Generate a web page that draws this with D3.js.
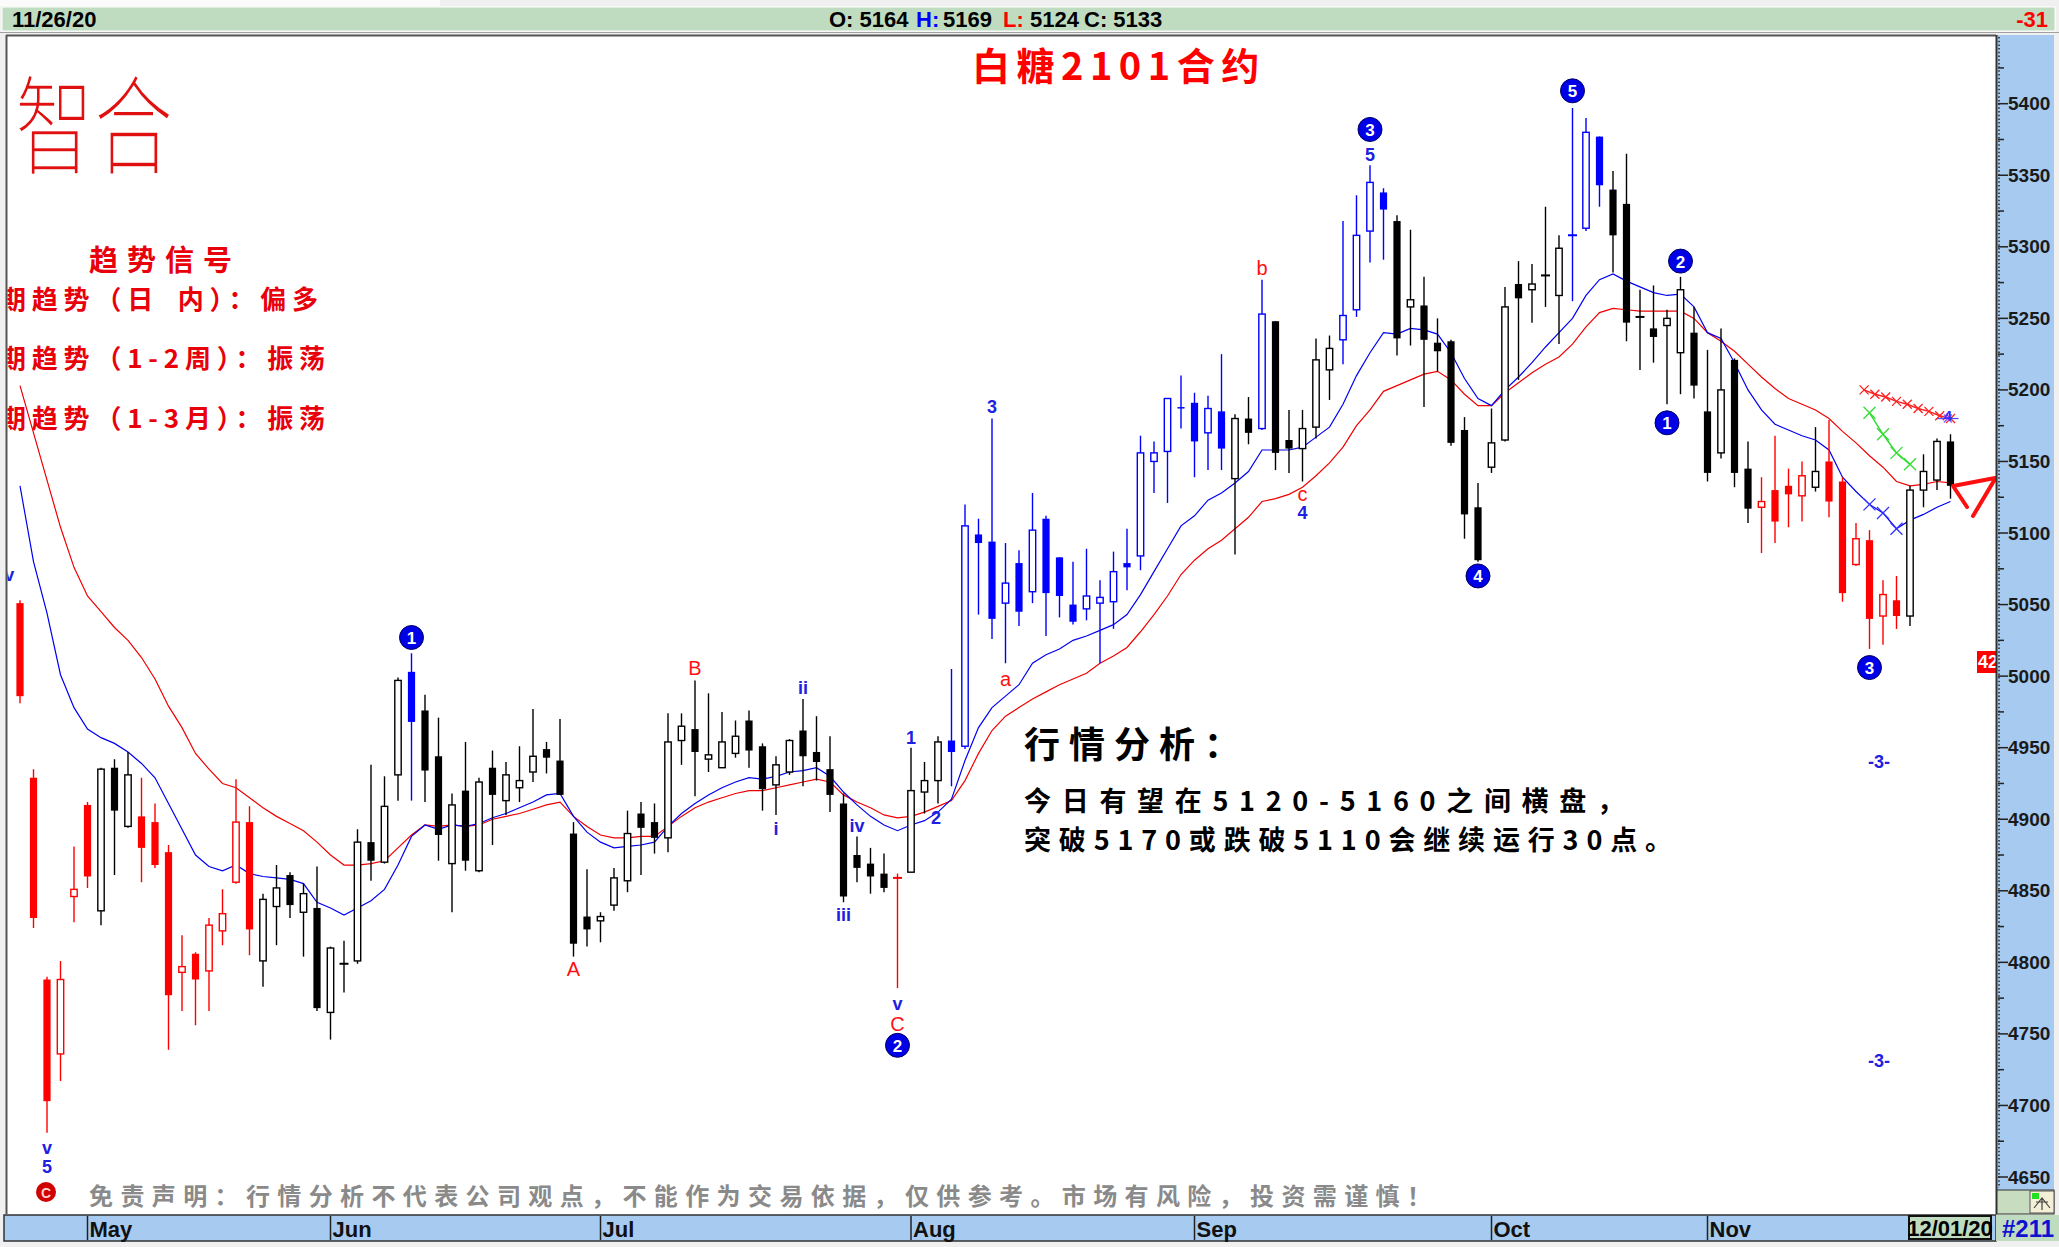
<!DOCTYPE html>
<html>
<head>
<meta charset="utf-8">
<script src="https://cdn.jsdelivr.net/npm/d3@7"></script>
<style>
  body { margin: 0; background: #f0f0f0; overflow: hidden; }
  svg { display: block; }
  .narrow { font-family: "Liberation Sans Narrow", "Arial Narrow", "Liberation Sans", sans-serif; font-weight: bold; }
  .cjk { font-family: "Noto Sans CJK SC", "Noto Sans", sans-serif; }
  .lat { font-family: "Liberation Sans", Arial, sans-serif; }
</style>
</head>
<body>
<svg id="chart" width="2059" height="1247"></svg>
<script>
// ---- Daily candles, white sugar SR2101 (24 Apr – 26 Nov 2020) ----
const open  = [5051,4929,4788,4736,4846,4910,4836,4936,4895,4902,4898,4877,4793,4806,4794,4822,4856,4898,4801,4839,
               4861,4835,4838,4765,4799,4801,4884,4870,4931,5003,4976,4944,4869,4920,4864,4936,4913,4922,4933,4949,
               4941,4890,4832,4829,4840,4857,4904,4898,4887,4955,4963,4942,4936,4946,4969,4951,4924,4933,4962,4947,
               4935,4911,4875,4869,4862,4859,4863,4919,4927,4955,4951,5099,5094,5051,5079,5059,5110,5083,5050,5047,
               5051,5052,5079,5084,5150,5157,5188,5191,5170,5185,5138,5180,5173,5248,5165,5159,5174,5214,5235,5256,
               5311,5338,5318,5258,5259,5233,5234,5172,5118,5146,5165,5274,5270,5280,5266,5308,5313,5377,5340,5330,
               5251,5243,5245,5226,5240,5185,5156,5221,5145,5118,5130,5133,5126,5132,5150,5136,5078,5095,5042,5053,
               5042,5130,5137,5164];
const high  = [5053,4935,4790,4801,4881,4912,4936,4942,4947,4929,4911,4882,4819,4807,4831,4851,4928,4909,4848,4868,
               4863,4855,4867,4811,4815,4893,4938,4930,4999,5016,4987,4971,4918,4954,4929,4948,4940,4951,4977,4954,
               4970,4898,4865,4835,4866,4906,4912,4911,4974,4974,4997,4988,4975,4969,4976,4953,4944,4956,4984,4972,
               4958,4918,4888,4880,4876,4862,4950,4940,4958,5005,5120,5110,5180,5093,5088,5128,5112,5083,5080,5089,
               5067,5087,5103,5168,5164,5194,5210,5198,5196,5225,5183,5195,5277,5248,5186,5186,5236,5238,5318,5336,
               5357,5341,5322,5312,5279,5250,5235,5181,5135,5187,5272,5290,5288,5328,5308,5397,5390,5377,5353,5365,
               5270,5273,5256,5279,5258,5228,5243,5222,5164,5139,5168,5145,5150,5174,5179,5139,5107,5102,5067,5070,
               5133,5155,5166,5169];
const low   = [4981,4824,4681,4717,4828,4852,4826,4861,4894,4856,4866,4739,4766,4756,4766,4812,4855,4805,4783,4812,
               4831,4804,4766,4746,4779,4799,4857,4869,4913,4913,4912,4871,4835,4864,4863,4882,4903,4912,4926,4932,
               4917,4804,4811,4814,4836,4849,4861,4876,4877,4938,4916,4933,4936,4943,4936,4906,4903,4931,4923,4927,
               4905,4842,4856,4848,4849,4782,4863,4904,4911,4923,4949,5043,5026,5009,5035,5051,5028,5041,5036,5039,
               5009,5033,5060,5074,5128,5121,5173,5139,5144,5144,5085,5162,5172,5144,5142,5136,5166,5193,5218,5251,
               5289,5291,5224,5231,5188,5213,5161,5096,5080,5142,5164,5207,5247,5258,5232,5262,5311,5328,5282,5234,
               5214,5219,5190,5197,5194,5136,5152,5132,5107,5086,5093,5104,5108,5129,5111,5052,5077,5019,5022,5033,
               5035,5118,5130,5124];
const close = [4986,4831,4703,4788,4851,4860,4935,4906,4931,4880,4868,4777,4797,4788,4826,4834,4898,4823,4844,4852,
               4840,4848,4768,4810,4799,4884,4871,4909,4997,4968,4934,4889,4910,4871,4926,4917,4931,4927,4944,4943,
               4917,4813,4823,4832,4859,4890,4894,4887,4954,4965,4947,4945,4954,4958,4948,4921,4938,4955,4944,4940,
               4917,4846,4866,4860,4852,4859,4920,4927,4954,4947,5105,5093,5040,5065,5045,5102,5058,5056,5038,5056,
               5055,5073,5076,5156,5156,5194,5187,5164,5187,5159,5180,5170,5253,5156,5159,5173,5221,5229,5252,5308,
               5345,5326,5236,5263,5235,5227,5163,5113,5081,5163,5258,5264,5274,5280,5299,5308,5380,5343,5308,5247,
               5251,5237,5250,5270,5203,5142,5200,5142,5117,5122,5108,5127,5140,5143,5122,5058,5096,5040,5057,5042,
               5130,5143,5164,5133];

// wave-count colouring of the bars: r = red, k = black, b = blue (runs of equal colour)
const colorRuns = [["r",6],["k",3],["r",9],["k",11],["b",1],["k",35],["r",1],["k",3],["b",21],["k",2],
                   ["b",1],["k",5],["b",4],["k",13],["b",3],["k",11],["r",4],["k",1],["r",6],["k",4]];

// moving averages (fast = blue, slow = red)
const maFast = [5133,5080,5044,5001,4978,4963,4957,4953,4947,4939,4929,4911,4893,4875,4867,4864,4868,4862,4860,4859,
                4858,4855,4842,4838,4833,4838,4843,4851,4868,4888,4896,4893,4896,4895,4897,4901,4904,4908,4912,4917,
                4918,4902,4891,4884,4880,4881,4882,4884,4895,4904,4911,4917,4922,4926,4929,4928,4930,4933,4934,4936,
                4930,4919,4910,4902,4896,4892,4896,4899,4905,4914,4941,4964,4978,4986,4994,5009,5015,5019,5025,5028,
                5032,5036,5043,5057,5073,5089,5105,5112,5123,5128,5135,5143,5158,5158,5158,5160,5167,5174,5190,5210,
                5226,5240,5239,5243,5242,5239,5226,5208,5194,5189,5200,5209,5219,5230,5240,5250,5266,5277,5281,5276,
                5272,5268,5266,5267,5258,5240,5236,5219,5200,5186,5176,5172,5168,5165,5158,5139,5129,5120,5114,5103,
                5109,5113,5118,5122];
const maSlow = [5203,5170,5137,5104,5076,5056,5045,5034,5025,5013,4998,4979,4964,4946,4935,4925,4922,4915,4908,4902,
                4897,4892,4884,4875,4868,4868,4869,4871,4880,4889,4896,4895,4896,4895,4896,4900,4902,4904,4907,4910,
                4912,4902,4895,4889,4887,4887,4888,4888,4895,4902,4908,4912,4915,4918,4920,4920,4922,4924,4926,4928,
                4926,4917,4912,4908,4903,4901,4902,4905,4909,4913,4927,4946,4962,4972,4978,4984,4989,4994,4998,5002,
                5009,5014,5020,5031,5043,5056,5071,5081,5089,5095,5103,5111,5122,5124,5127,5132,5140,5149,5160,5175,
                5186,5199,5203,5207,5211,5213,5207,5197,5189,5189,5198,5205,5212,5218,5223,5232,5244,5254,5257,5256,
                5255,5255,5255,5255,5250,5240,5234,5227,5218,5209,5201,5194,5190,5186,5180,5171,5163,5154,5146,5136,
                5133,5134,5136,5135];

// month labels and the bar index of each month's first session
const monthLabels = ["May","Jun","Jul","Aug","Sep","Oct","Nov"];
const monthStart  = [5, 23, 43, 66, 87, 109, 125];

// Elliott wave counts: circled degree marks and plain labels (bar index, price level)
const circleMarks = [
  {t:"1", i:29,  v:5027}, {t:"2", i:65,  v:4742}, {t:"3", i:100, v:5382}, {t:"4", i:108, v:5070},
  {t:"5", i:115, v:5409}, {t:"1", i:122, v:5177}, {t:"2", i:123, v:5290}, {t:"3", i:137, v:5006}
];
const waveLabels = [
  {t:"v",   i:-0.8, v:5071, c:"b"}, {t:"v", i:2, v:4670, c:"b"}, {t:"5", i:2, v:4657, c:"b"},
  {t:"A",   i:41,  v:4795, c:"r"}, {t:"B", i:50, v:5006, c:"r"},
  {t:"i",   i:56,  v:4893, c:"b"}, {t:"ii", i:58, v:4992, c:"b"}, {t:"iii", i:61, v:4833, c:"b"},
  {t:"iv",  i:62,  v:4895, c:"b"}, {t:"v", i:65, v:4771, c:"b"}, {t:"C", i:65, v:4757, c:"r"},
  {t:"1",   i:66,  v:4957, c:"b"}, {t:"2", i:67.85, v:4901, c:"b"},
  {t:"3",   i:72,  v:5188, c:"b"}, {t:"a", i:73, v:4998, c:"r"},
  {t:"b",   i:92,  v:5285, c:"r"}, {t:"c", i:95, v:5127, c:"r"}, {t:"4", i:95, v:5114, c:"b"},
  {t:"5",   i:100, v:5364, c:"b"},
  {t:"-3-", i:137.7, v:4940, c:"b"}, {t:"-3-", i:137.7, v:4731, c:"b"}
];
// projection marks drawn near the last bars
const redProjIdx  = [136.6, 137.4, 138.2, 139.0, 139.8, 140.6, 141.4, 142.2, 143.0];
const redProjVal  = [5200, 5197, 5195, 5192, 5190, 5187, 5185, 5182, 5180];
const greenProjIdx = [137, 138, 139, 140];
const greenProjVal = [5184, 5169, 5156, 5148];
const blueProjIdx  = [137, 138, 139];

const yTickValues = d3.range(4650, 5401, 50);

// ---- layout ----
const W = 2059, H = 1247;
const P = {left: 6, top: 35, right: 1996, bottom: 1214};
const colors = {r: "#ff0000", k: "#000000", b: "#0000ff"};
const barColor = colorRuns.flatMap(([c, n]) => Array(n).fill(c));

const x = d3.scaleLinear().domain([0, 146]).range([20, 20 + 146 * 13.5]);
const y = d3.scaleLinear().domain([4650, 5400]).range([1177, 103.7]);

const svg = d3.select("#chart");

// window chrome
svg.append("rect").attr("width", W).attr("height", H).attr("fill", "#f0f0f0");
svg.append("rect").attr("x", 0).attr("y", 0).attr("width", 440).attr("height", 6).attr("fill", "#fbfbfb");
svg.append("rect").attr("x", 2).attr("y", 7).attr("width", W - 6).attr("height", 24)
  .attr("fill", "#c0dcc0").attr("stroke", "#ffffff").attr("stroke-width", 1);
svg.append("line").attr("x1", 0).attr("x2", W).attr("y1", 32.5).attr("y2", 32.5).attr("stroke", "#a0a0a0");

// status line
const status = svg.append("g").attr("class", "narrow").attr("font-size", 22).attr("dominant-baseline", "central");
[
  {t: "11/26/20", x: 12, c: "#000"}, {t: "O: 5164", x: 829, c: "#000"},
  {t: "H:", x: 916, c: "#0000ff"}, {t: "5169", x: 943, c: "#000"},
  {t: "L:", x: 1003, c: "#ff0000"}, {t: "5124", x: 1030, c: "#000"},
  {t: "C: 5133", x: 1084, c: "#000"}
].forEach(d => status.append("text").attr("x", d.x).attr("y", 19.5).attr("fill", d.c).text(d.t));
status.append("text").attr("x", 2048).attr("y", 19.5).attr("text-anchor", "end").attr("fill", "#ff0000").text("-31");

// plot area
svg.append("rect").attr("x", P.left).attr("y", P.top).attr("width", P.right - P.left).attr("height", P.bottom - P.top)
  .attr("fill", "#ffffff");
svg.append("line").attr("x1", P.left).attr("x2", P.right).attr("y1", P.top + 0.5).attr("y2", P.top + 0.5)
  .attr("stroke", "#555").attr("stroke-width", 2);
svg.append("line").attr("x1", P.left + 0.5).attr("x2", P.left + 0.5).attr("y1", P.top).attr("y2", P.bottom)
  .attr("stroke", "#555").attr("stroke-width", 2);

svg.append("clipPath").attr("id", "plotClip").append("rect")
  .attr("x", P.left + 1.5).attr("y", P.top + 1.5).attr("width", P.right - P.left - 1.5).attr("height", P.bottom - P.top - 1.5);
const g = svg.append("g").attr("clip-path", "url(#plotClip)");

// ---- text panels ----
// logo: regular glyphs slightly thinned with a white outline
g.append("text").attr("class", "cjk").attr("font-weight", 300).attr("font-size", 79).attr("fill", "#e01010")
  .attr("stroke", "#ffffff").attr("stroke-width", 1.1).attr("paint-order", "fill")
  .attr("dominant-baseline", "central")
  .attr("transform", "translate(15,119) scale(1,1.36)").text("智合");

g.append("text").attr("class", "cjk").attr("font-weight", "bold").attr("font-size", 38).attr("fill", "#ff0000")
  .attr("x", 972).attr("y", 63).attr("dominant-baseline", "central").attr("letter-spacing", 6.5).text("白糖2101合约");

const signals = g.append("g").attr("class", "cjk").attr("font-weight", "bold").attr("fill", "#e8000a")
  .attr("dominant-baseline", "central");
signals.append("text").attr("x", 89).attr("y", 258).attr("font-size", 29).attr("letter-spacing", 9).text("趋势信号");
[["期趋势（日\u2002内）：偏多", 297], ["期趋势（1-2周）：振荡", 356], ["期趋势（1-3月）：振荡", 416]]
  .forEach(([t, yy]) => signals.append("text").attr("x", 0).attr("y", yy).attr("font-size", 26)
    .attr("letter-spacing", 5.8).text(t));

const analysis = g.append("g").attr("class", "cjk").attr("font-weight", "bold").attr("fill", "#000")
  .attr("dominant-baseline", "central");
analysis.append("text").attr("x", 1024).attr("y", 742).attr("font-size", 36).attr("letter-spacing", 9).text("行情分析：");
analysis.append("text").attr("x", 1024).attr("y", 799).attr("font-size", 27)
  .attr("textLength", 600).attr("lengthAdjust", "spacing").text("今日有望在5120-5160之间横盘，");
analysis.append("text").attr("x", 1024).attr("y", 838).attr("font-size", 27)
  .attr("textLength", 648).attr("lengthAdjust", "spacing").text("突破5170或跌破5110会继续运行30点。");

g.append("circle").attr("cx", 46).attr("cy", 1192).attr("r", 10).attr("fill", "#d00000");
g.append("text").attr("class", "lat").attr("x", 46).attr("y", 1193).attr("font-size", 14).attr("font-weight", "bold")
  .attr("fill", "#ffd0d0").attr("text-anchor", "middle").attr("dominant-baseline", "central").text("C");
g.append("text").attr("class", "cjk").attr("font-weight", "bold").attr("fill", "#8a8a8a")
  .attr("x", 89).attr("y", 1194).attr("font-size", 24).attr("dominant-baseline", "central")
  .attr("textLength", 1342).attr("lengthAdjust", "spacing")
  .text("免责声明：行情分析不代表公司观点，不能作为交易依据，仅供参考。市场有风险，投资需谨慎！");

// ---- moving averages ----
const maLine = d3.line().x((d, i) => x(i)).y(d => y(d));
g.append("path").attr("d", maLine(maSlow)).attr("fill", "none").attr("stroke", "#f00000").attr("stroke-width", 1.2);
g.append("path").attr("d", maLine(maFast)).attr("fill", "none").attr("stroke", "#0000f0").attr("stroke-width", 1.2);

// ---- candles ----
const bars = g.append("g");
open.forEach((o, i) => {
  const c = close[i], col = colors[barColor[i]], cx = x(i);
  bars.append("line").attr("x1", cx).attr("x2", cx).attr("y1", y(high[i])).attr("y2", y(low[i]))
    .attr("stroke", col).attr("stroke-width", 1.4);
  if (Math.abs(o - c) < 1) {
    bars.append("line").attr("x1", cx - 4.5).attr("x2", cx + 4.5).attr("y1", y(c)).attr("y2", y(c))
      .attr("stroke", col).attr("stroke-width", 2);
  } else if (c > o) {
    bars.append("rect").attr("x", cx - 3.2).attr("width", 6.4).attr("y", y(c)).attr("height", y(o) - y(c))
      .attr("fill", "#fff").attr("stroke", col).attr("stroke-width", 1.4);
  } else {
    bars.append("rect").attr("x", cx - 3.6).attr("width", 7.2).attr("y", y(o)).attr("height", y(c) - y(o))
      .attr("fill", col);
  }
});

// ---- projection marks ----
function xMark(sel, px, py, s, col, w) {
  sel.append("path").attr("d", `M${px - s},${py - s}L${px + s},${py + s}M${px - s},${py + s}L${px + s},${py - s}`)
    .attr("stroke", col).attr("stroke-width", w).attr("fill", "none");
}
const proj = g.append("g");
const redPts = redProjIdx.map((d, k) => [x(d), y(redProjVal[k])]);
proj.append("path").attr("d", d3.line()(redPts)).attr("stroke", "#ff2020").attr("stroke-width", 1.5).attr("fill", "none");
redPts.forEach(p => xMark(proj, p[0], p[1], 4.5, "#ff2020", 1.3));
const greenPts = greenProjIdx.map((d, k) => [x(d), y(greenProjVal[k])]);
proj.append("path").attr("d", d3.line()(greenPts)).attr("stroke", "#33dd33").attr("stroke-width", 1.5).attr("fill", "none");
greenPts.forEach(p => xMark(proj, p[0], p[1], 6, "#33dd33", 1.3));
blueProjIdx.forEach(d => xMark(proj, x(d), y(maFast[d]), 6, "#3030ff", 1.3));
// wave-4 target mark on the last bars
proj.append("line").attr("x1", x(142.0)).attr("x2", x(143.6)).attr("y1", y(5180)).attr("y2", y(5180))
  .attr("stroke", "#5050ff").attr("stroke-width", 1.3);
xMark(proj, x(142.8), y(5180), 4, "#8060ff", 1.2);
proj.append("text").attr("class", "lat").attr("x", x(142.8)).attr("y", y(5182)).attr("font-size", 15)
  .attr("font-weight", "bold").attr("fill", "#3030ff").attr("text-anchor", "middle")
  .attr("dominant-baseline", "central").text("4");

// hand-drawn arrow at the right edge
g.append("path").attr("d", "M1953,486 L1995,478 M1953,486 L1967,507 M1973,516 L1995,479")
  .attr("stroke", "#ff1010").attr("stroke-width", 4).attr("stroke-linecap", "round").attr("fill", "none");

// last-price flag
g.append("rect").attr("x", 1977).attr("y", 651).attr("width", 20).attr("height", 22).attr("fill", "#ff0000");
g.append("text").attr("class", "lat").attr("x", 1978).attr("y", 662).attr("font-size", 18).attr("font-weight", "bold")
  .attr("fill", "#fff").attr("dominant-baseline", "central").text("42");

// ---- wave labels ----
const labels = g.append("g").attr("class", "lat").attr("text-anchor", "middle").attr("dominant-baseline", "central");
waveLabels.forEach(d => {
  labels.append("text").attr("x", x(d.i)).attr("y", y(d.v))
    .attr("font-size", d.c === "r" ? 20 : 18).attr("font-weight", d.c === "r" ? "normal" : "bold")
    .attr("fill", d.c === "r" ? "#ff1010" : "#2020e0").text(d.t);
});
const circles = g.append("g");
circleMarks.forEach(d => {
  circles.append("circle").attr("cx", x(d.i)).attr("cy", y(d.v)).attr("r", 12)
    .attr("fill", "#0000e6").attr("stroke", "#000060").attr("stroke-width", 1);
  circles.append("text").attr("class", "lat").attr("x", x(d.i)).attr("y", y(d.v) + 1).attr("font-size", 17)
    .attr("font-weight", "bold").attr("fill", "#fff").attr("text-anchor", "middle")
    .attr("dominant-baseline", "central").text(d.t);
});

// ---- price axis panel ----
svg.append("rect").attr("x", P.right).attr("y", P.top).attr("width", 58).attr("height", P.bottom - P.top)
  .attr("fill", "#a6caf0");
svg.append("line").attr("x1", P.right + 0.5).attr("x2", P.right + 0.5).attr("y1", P.top).attr("y2", P.bottom)
  .attr("stroke", "#333").attr("stroke-width", 2);
svg.append("line").attr("x1", P.right + 3).attr("x2", P.right + 3).attr("y1", P.top + 2).attr("y2", 1188)
  .attr("stroke", "#222").attr("stroke-width", 1.5).attr("stroke-dasharray", "1.5,2.2");
const axis = svg.append("g");
d3.range(4675, 5426, 50).forEach(v => axis.append("line").attr("x1", P.right + 2).attr("x2", P.right + 8)
  .attr("y1", y(v)).attr("y2", y(v)).attr("stroke", "#222").attr("stroke-width", 1.5));
yTickValues.forEach(v => {
  axis.append("line").attr("x1", P.right + 2).attr("x2", P.right + 12).attr("y1", y(v)).attr("y2", y(v))
    .attr("stroke", "#222").attr("stroke-width", 1.5);
  axis.append("text").attr("class", "lat").attr("x", P.right + 12).attr("y", y(v)).attr("font-size", 19)
    .attr("font-weight", "bold").attr("fill", "#1a1a1a").attr("dominant-baseline", "central").text(v);
});
// toolbar button at the foot of the price panel
svg.append("rect").attr("x", P.right + 1).attr("y", 1190).attr("width", 57).attr("height", 24)
  .attr("fill", "#c8dcc0").attr("stroke", "#333");
svg.append("rect").attr("x", 2030).attr("y", 1191).attr("width", 24).attr("height", 22).attr("fill", "#f4f0d8").attr("stroke", "#555");
svg.append("rect").attr("x", 2032).attr("y", 1193).attr("width", 7).attr("height", 6).attr("fill", "#20e020");
svg.append("path").attr("d", "M2034,1208 L2042,1198 L2050,1208 M2036,1202 L2048,1202 M2042,1198 L2042,1210")
  .attr("stroke", "#444").attr("fill", "none").attr("stroke-width", 1.2);

// ---- date axis bar ----
svg.append("rect").attr("x", 4).attr("y", P.bottom + 1).attr("width", 1992).attr("height", 26)
  .attr("fill", "#a6caf0").attr("stroke", "#333").attr("stroke-width", 1.5);
const months = svg.append("g");
monthLabels.forEach((m, k) => {
  const xx = x(monthStart[k]);
  months.append("line").attr("x1", xx).attr("x2", xx).attr("y1", P.bottom + 2).attr("y2", P.bottom + 26)
    .attr("stroke", "#222").attr("stroke-width", 1.5);
  months.append("text").attr("class", "narrow").attr("x", xx + 2).attr("y", P.bottom + 15).attr("font-size", 22)
    .attr("fill", "#111").attr("dominant-baseline", "central").text(m);
});
svg.append("rect").attr("x", 1909).attr("y", P.bottom + 2).attr("width", 82).attr("height", 23)
  .attr("fill", "#c0dcc0").attr("stroke", "#111").attr("stroke-width", 2);
svg.append("text").attr("class", "narrow").attr("x", 1950).attr("y", P.bottom + 14).attr("font-size", 22)
  .attr("text-anchor", "middle").attr("dominant-baseline", "central").attr("fill", "#000").text("12/01/20");
svg.append("rect").attr("x", 1996).attr("y", P.bottom + 1).attr("width", 63).attr("height", 26).attr("fill", "#c0dcc0");
svg.append("text").attr("class", "narrow").attr("x", 2028).attr("y", P.bottom + 14).attr("font-size", 24)
  .attr("text-anchor", "middle").attr("dominant-baseline", "central").attr("fill", "#1010d0").text("#211");
</script>
</body>
</html>
